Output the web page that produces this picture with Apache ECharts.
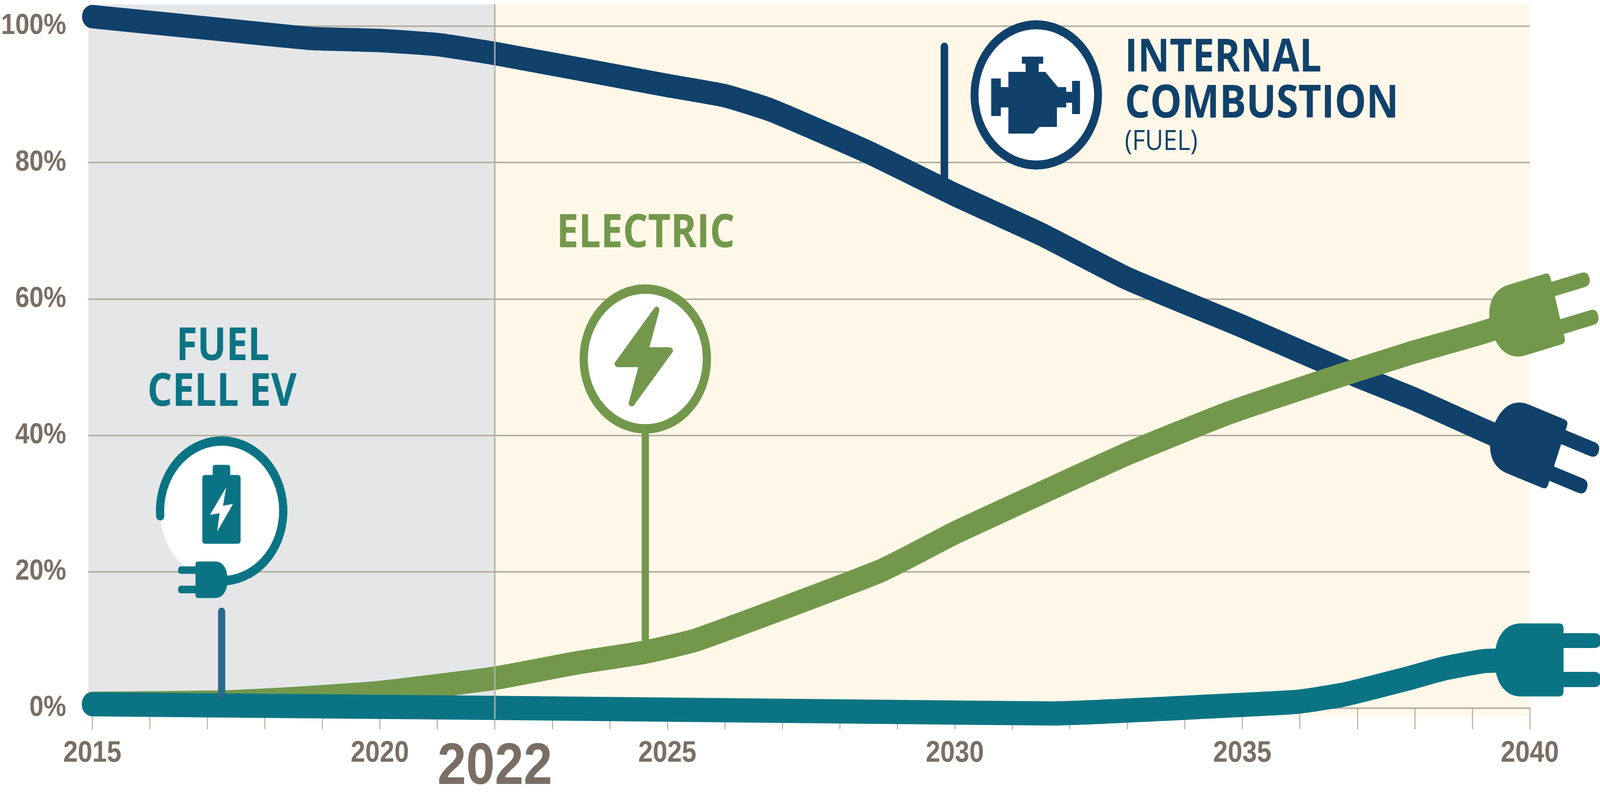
<!DOCTYPE html>
<html>
<head>
<meta charset="utf-8">
<style>html,body{margin:0;padding:0;background:#fff;overflow:hidden}#c{width:4649px;height:2066px;transform-origin:0 0}</style>
<script src="https://cdn.jsdelivr.net/npm/echarts@6/dist/echarts.min.js"></script>
</head>
<body>
<div id="c"></div>
<script>
// --- data: [year, share %] ---
const internalCombustion = [[2015,101.4],[2017,99.7],[2018.8,98.2],[2020,97.9],[2021,97.3],[2022,96.0],[2025,91.3],[2026,89.8],[2026.8,87.7],[2028.5,81.5],[2030,75.3],[2031.5,69.5],[2033,63],[2035,56],[2037,48.7],[2038,45.3],[2039,41.5],[2039.8,38.5]];
const electric = [[2015,0.7],[2017.3,0.9],[2018.5,1.4],[2020,2.3],[2022,4.4],[2023.4,6.6],[2024.6,8.2],[2025.5,10],[2028.7,20.1],[2030,25.7],[2031,29.6],[2033,37.3],[2034.8,43.4],[2036.75,48.9],[2037.9,52],[2039.3,55.4],[2039.9,57.5]];
const fuelCell = [[2015,0.57],[2022,0.05],[2029,-0.56],[2031.7,-0.77],[2035,0.49],[2036,0.97],[2036.75,1.97],[2037.3,3.1],[2037.9,4.4],[2038.5,5.8],[2039.2,6.9],[2039.9,7.0]];
const bandEdges = [2014.93, 2022, 2040];
const yearMarker = 2022;
const yTickValues = [0,20,40,60,80,100];
const labelledYears = [2015,2020,2022,2025,2030,2035,2040];

const NAVY='#10416B', GREEN='#73984C', TEAL='#0B7484', GRID='#B6AFA0', INK='#7A6E64', GREY_BG='#E5E6E8', CREAM='#FFF8E8';
const AXISFONT='"Liberation Sans",sans-serif';

// the window may be narrower than the reference: keep the reference's frame by fitting the width
const host=document.getElementById('c');
if(window.innerWidth<4649) host.style.transform='scaleX('+(window.innerWidth/4649)+')';

const mctx=document.createElement('canvas').getContext('2d');
function label(text,left,right,cy,size,weight,fill){
  const font=weight+' '+size+'px "Open Sans"';
  mctx.font=font;
  const w=mctx.measureText(text).width;
  return {type:'text',x:left,y:cy,scaleX:(right-left)/w,style:{text,x:0,y:0,font,fill,textAlign:'left',textVerticalAlign:'middle',verticalAlign:'middle'}};
}
const PLUG='M-20,-93 L90,-93 Q103,-93 103,-80 L103,-68 L192,-68 Q212,-68 212,-49 Q212,-30 192,-30 L103,-30 L103,31 L192,31 Q212,31 212,50 Q212,70 192,70 L103,70 L103,80 Q103,94 90,94 L-20,94 C-70,94 -97,55 -97,0 C-97,-55 -70,-93 -20,-93 Z';
function plug(x,y,rot,fill,sx,sy){
  return {type:'path',x,y,rotation:rot,scaleX:sx||1,scaleY:sy||1,shape:{pathData:PLUG},style:{fill}};
}
function stem(x,y1,y2,w,color){
  return {type:'line',shape:{x1:x,y1,x2:x,y2},style:{stroke:color,lineWidth:w,lineCap:'round'}};
}
function disc(cx,cy,r,ring,color){
  return {type:'circle',shape:{cx,cy,r},style:{fill:'#fff',stroke:color,lineWidth:ring}};
}
const ENGINE='M2930,184 L2980,184 L2980,163 L2969,163 L2969,145 L3031,145 L3031,163 L3018,163 L3018,184 L3037,184 L3074,223 L3098,223 L3098,235 L3115,235 L3115,207 L3138,207 L3138,292 L3115,292 L3115,263 L3098,263 L3098,275 L3071,275 L3071,325 L3020,325 L3003,342 L2930,342 L2930,275 L2908,275 L2908,297 L2880,297 L2880,201 L2908,201 L2908,223 L2930,223 Z';
const BOLT='M1900,790 Q1907,782 1913,787 Q1917,791 1915,798 L1887,889 L1945,889 Q1955,891 1956,899 L1841,1039 Q1833,1042 1828,1037 Q1826,1033 1827,1030 L1854.5,940 L1796,940 Q1787,940 1785,930 Z';
const BATTERY='M618,1198 Q618,1190 626,1190 L661,1190 Q669,1190 669,1198 L669,1216 L691,1216 Q699,1216 699,1224 L699,1384 Q699,1392 691,1392 L596,1392 Q588,1392 588,1384 L588,1224 Q588,1216 596,1216 L618,1216 Z';
const BATTERY_BOLT='M657,1248 L648,1295 L677,1290 L631,1361 L638,1314 L610,1318 Z';

const icons=[
  stem(2744,120,470,22,NAVY),
  disc(3011,243,179.5,23,NAVY),
  {type:'path',shape:{pathData:ENGINE},style:{fill:NAVY}},
  label('INTERNAL',3268,3840,150,117,'bold',NAVY),
  label('COMBUSTION',3268,4064,268,117,'bold',NAVY),
  label('(FUEL)',3268,3480,364,71,'normal',NAVY),

  {type:'line',shape:{x1:1875,y1:1100,x2:1875,y2:1640},style:{stroke:GREEN,lineWidth:21}},
  disc(1875,919,179,24,GREEN),
  {type:'path',shape:{pathData:BOLT},style:{fill:GREEN}},
  label('ELECTRIC',1617,2135,599,119,'bold',GREEN),

  stem(644,1566,1776,21,'#2A6A90'),
  {type:'circle',shape:{cx:644,cy:1308,r:179},style:{fill:'#fff'}},
  {type:'arc',shape:{cx:644,cy:1308,r:179,startAngle:176*Math.PI/180,endAngle:85*Math.PI/180,clockwise:true},style:{fill:'none',stroke:TEAL,lineWidth:24,lineCap:'round'}},
  {type:'path',shape:{pathData:BATTERY},style:{fill:TEAL}},
  {type:'path',shape:{pathData:BATTERY_BOLT},style:{fill:'#fff'}},
  plug(616,1484,0,TEAL,-0.465,0.5),
  label('FUEL',512,783,889,117,'bold',TEAL),
  label('CELL EV',428,862,1006,117,'bold',TEAL),

  plug(4429,1130,-20*Math.PI/180,NAVY),
  plug(4426,814,15*Math.PI/180,GREEN),
  plug(4440,1689,0,TEAL)
];

function lineSeries(name,data,color,width,z){
  return {name,type:'line',data,z,clip:false,symbol:'none',smooth:0.15,
    lineStyle:{color,width,cap:'round',join:'round'},emphasis:{disabled:true},silent:true};
}
const chart=echarts.init(host,null,{renderer:'canvas'});
chart.setOption({
  animation:false,
  backgroundColor:'#fff',
  grid:{left:264,right:204,top:67,bottom:253,containLabel:false},
  xAxis:{type:'value',min:2015,max:2040,interval:1,
    splitLine:{show:false},
    axisLine:{show:true,onZero:false,lineStyle:{color:GRID,width:4}},
    axisTick:{show:true,length:54,lineStyle:{color:GRID,width:3}},
    axisLabel:{show:true,margin:78,showMinLabel:true,showMaxLabel:true,color:INK,fontFamily:AXISFONT,fontWeight:'bold',fontSize:76,verticalAlign:'top',
      hideOverlap:false,
      formatter:v=>labelledYears.includes(v)?(v===yearMarker?'{big|'+v+'}':String(v)):'',
      rich:{big:{fontFamily:AXISFONT,fontWeight:'bold',fontSize:150,color:INK,verticalAlign:'top'}}}},
  yAxis:{type:'value',min:0,max:100,interval:20,
    axisLine:{show:false},
    axisTick:{show:true,length:12,lineStyle:{color:GRID,width:4}},
    splitLine:{show:true,lineStyle:{color:GRID,width:4}},
    axisLabel:{margin:76,color:INK,fontFamily:AXISFONT,fontWeight:'bold',fontSize:74,formatter:v=>yTickValues.includes(v)?v+'%':''}},
  series:[
    {type:'custom',name:'bands',z:-1,silent:true,clip:false,data:[[bandEdges[0],bandEdges[1]],[bandEdges[1],bandEdges[2]]],
      renderItem:(p,api)=>{
        const a=api.coord([api.value(0),103.2]),b=api.coord([api.value(1),-1.09]);
        return {type:'rect',shape:{x:a[0],y:a[1],width:b[0]-a[0],height:b[1]-a[1]},style:{fill:p.dataIndex===0?GREY_BG:CREAM}};
      }},
    lineSeries('Internal combustion',internalCombustion,NAVY,60,3),
    lineSeries('Electric',electric,GREEN,60,4),
    lineSeries('Fuel cell EV',fuelCell,TEAL,62,5),
    {type:'custom',name:'marker',z:6,silent:true,clip:false,data:[[yearMarker]],
      renderItem:(p,api)=>{
        const a=api.coord([api.value(0),103.2]),b=api.coord([api.value(0),-1.6]);
        return {type:'line',shape:{x1:a[0],y1:a[1],x2:b[0],y2:b[1]},style:{stroke:GRID,lineWidth:4}};
      }},
    {type:'custom',name:'annotations',z:10,silent:true,clip:false,data:[[2020,50]],
      renderItem:()=>({type:'group',children:icons})}
  ]
});
</script>
</body>
</html>
